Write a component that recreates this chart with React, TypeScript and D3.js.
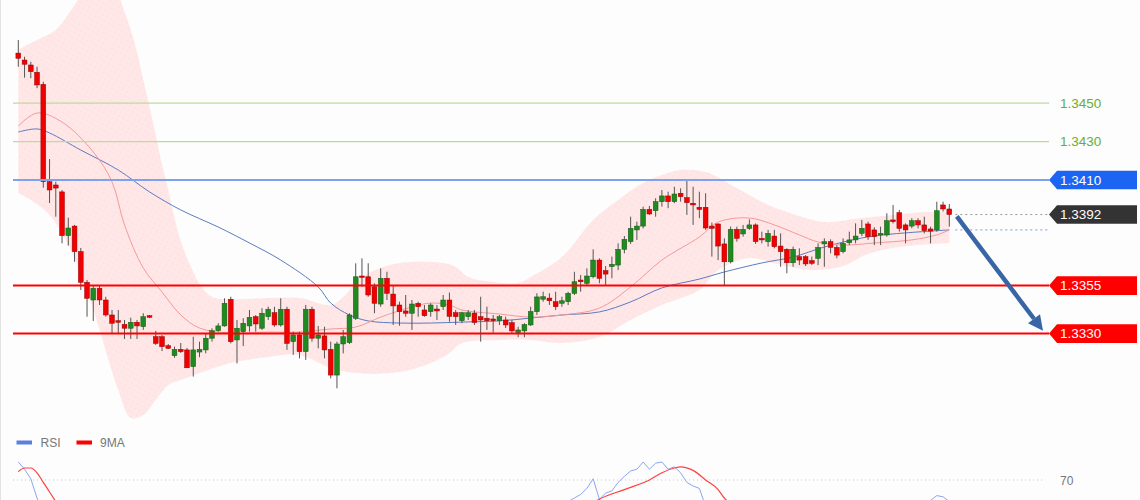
import React from 'react';
import * as d3 from 'd3';

// ---- Candles (price) ----
const opens = [1.34761,1.34725,1.34699,1.34661,1.34598,1.34091,1.34074,1.34038,1.33810,1.33860,
1.33727,1.33567,1.33475,1.33536,1.33475,1.33397,1.33367,1.33348,1.33328,1.33359,
1.33336,1.33393,1.33284,1.33284,1.33237,1.33185,1.33218,1.33215,1.33128,1.33204,
1.33215,1.33276,1.33315,1.33340,1.33479,1.33267,1.33310,1.33340,1.33388,1.33328,
1.33388,1.33409,1.33345,1.33427,1.33258,1.33293,1.33206,1.33427,1.33276,1.33288,
1.33218,1.33084,1.33246,1.33253,1.33380,1.33600,1.33596,1.33544,1.33454,1.33588,
1.33506,1.33449,1.33418,1.33406,1.33458,1.33423,1.33414,1.33428,1.33440,1.33475,
1.33409,1.33367,1.33388,1.33407,1.33388,1.33380,1.33376,1.33367,1.33371,1.33357,
1.33305,1.33314,1.33345,1.33414,1.33479,1.33485,1.33466,1.33458,1.33466,1.33510,
1.33579,1.33562,1.33596,1.33683,1.33628,1.33649,1.33657,1.33739,1.33779,1.33840,
1.33860,1.33947,1.33940,1.33987,1.34017,1.33987,1.34031,1.34008,1.33979,1.33958,
1.33958,1.33860,1.33871,1.33767,1.33674,1.33843,1.33819,1.33848,1.33866,1.33796,
1.33779,1.33808,1.33756,1.33739,1.33669,1.33701,1.33701,1.33680,1.33692,1.33767,
1.33779,1.33749,1.33727,1.33773,1.33788,1.33822,1.33871,1.33840,1.33814,1.33814,
1.33892,1.33930,1.33866,1.33860,1.33888,1.33866,1.33845,1.33840,1.33970,1.33949];

const highs = [1.34829,1.34742,1.34716,1.34690,1.34612,1.34209,1.34091,1.34048,1.33904,1.33866,
1.33746,1.33579,1.33549,1.33553,1.33492,1.33423,1.33423,1.33371,1.33383,1.33371,
1.33406,1.33397,1.33314,1.33293,1.33246,1.33232,1.33251,1.33225,1.33284,1.33258,
1.33302,1.33328,1.33354,1.33484,1.33492,1.33371,1.33380,1.33423,1.33397,1.33432,
1.33440,1.33440,1.33484,1.33440,1.33310,1.33310,1.33449,1.33440,1.33340,1.33336,
1.33258,1.33258,1.33319,1.33406,1.33666,1.33692,1.33666,1.33562,1.33640,1.33622,
1.33553,1.33466,1.33501,1.33475,1.33466,1.33449,1.33458,1.33449,1.33501,1.33514,
1.33423,1.33414,1.33423,1.33423,1.33492,1.33440,1.33397,1.33397,1.33388,1.33371,
1.33336,1.33354,1.33440,1.33510,1.33518,1.33510,1.33518,1.33492,1.33518,1.33622,
1.33605,1.33640,1.33739,1.33692,1.33652,1.33701,1.33770,1.33808,1.33909,1.33883,
1.33961,1.33965,1.34005,1.34048,1.34039,1.34065,1.34057,1.34100,1.34065,1.34039,
1.34031,1.33878,1.33874,1.33796,1.33857,1.33857,1.33866,1.33895,1.33874,1.33831,
1.33840,1.33840,1.33822,1.33744,1.33753,1.33744,1.33709,1.33701,1.33770,1.33796,
1.33791,1.33761,1.33796,1.33831,1.33874,1.33892,1.33883,1.33854,1.33857,1.33927,
1.33970,1.33944,1.33874,1.33901,1.33901,1.33909,1.33857,1.33987,1.33987,1.33975];

const lows = [1.34690,1.34633,1.34630,1.34578,1.34060,1.33980,1.33909,1.33770,1.33758,1.33674,
1.33527,1.33388,1.33366,1.33449,1.33388,1.33302,1.33303,1.33272,1.33272,1.33272,
1.33319,1.33381,1.33241,1.33209,1.33220,1.33174,1.33199,1.33121,1.33076,1.33177,
1.33197,1.33258,1.33310,1.33336,1.33249,1.33145,1.33235,1.33310,1.33310,1.33319,
1.33371,1.33336,1.33336,1.33215,1.33189,1.33171,1.33163,1.33258,1.33223,1.33171,
1.33067,1.33015,1.33197,1.33246,1.33371,1.33544,1.33492,1.33406,1.33440,1.33475,
1.33345,1.33341,1.33388,1.33319,1.33388,1.33388,1.33388,1.33371,1.33423,1.33362,
1.33345,1.33354,1.33371,1.33345,1.33258,1.33319,1.33305,1.33345,1.33329,1.33302,
1.33281,1.33281,1.33340,1.33397,1.33466,1.33449,1.33423,1.33440,1.33449,1.33501,
1.33518,1.33553,1.33588,1.33562,1.33553,1.33588,1.33631,1.33718,1.33767,1.33788,
1.33848,1.33918,1.33909,1.33961,1.33953,1.33979,1.33987,1.33918,1.33866,1.33901,
1.33840,1.33701,1.33683,1.33553,1.33666,1.33779,1.33805,1.33840,1.33767,1.33770,
1.33753,1.33744,1.33648,1.33614,1.33648,1.33657,1.33652,1.33657,1.33657,1.33648,
1.33718,1.33692,1.33718,1.33761,1.33770,1.33808,1.33788,1.33761,1.33761,1.33805,
1.33874,1.33831,1.33770,1.33848,1.33848,1.33822,1.33770,1.33831,1.33935,1.33857];

const closes = [1.34734,1.34703,1.34664,1.34595,1.34091,1.34048,1.34058,1.33810,1.33850,1.33727,
1.33567,1.33484,1.33536,1.33475,1.33397,1.33354,1.33359,1.33328,1.33359,1.33340,
1.33388,1.33385,1.33249,1.33232,1.33223,1.33218,1.33206,1.33122,1.33215,1.33218,
1.33276,1.33315,1.33340,1.33458,1.33258,1.33328,1.33354,1.33385,1.33350,1.33406,
1.33427,1.33345,1.33427,1.33249,1.33293,1.33206,1.33427,1.33276,1.33293,1.33215,
1.33084,1.33246,1.33284,1.33397,1.33596,1.33593,1.33501,1.33458,1.33588,1.33510,
1.33444,1.33414,1.33406,1.33454,1.33440,1.33393,1.33449,1.33418,1.33475,1.33390,
1.33388,1.33409,1.33409,1.33358,1.33371,1.33367,1.33367,1.33388,1.33345,1.33314,
1.33319,1.33347,1.33415,1.33491,1.33492,1.33471,1.33440,1.33471,1.33510,1.33570,
1.33570,1.33600,1.33683,1.33588,1.33610,1.33661,1.33739,1.33791,1.33848,1.33860,
1.33947,1.33923,1.33987,1.34017,1.33987,1.34027,1.34013,1.33982,1.33970,1.33947,
1.33850,1.33848,1.33756,1.33674,1.33843,1.33796,1.33843,1.33866,1.33779,1.33788,
1.33822,1.33753,1.33727,1.33669,1.33739,1.33683,1.33663,1.33666,1.33749,1.33779,
1.33749,1.33709,1.33770,1.33788,1.33808,1.33848,1.33805,1.33805,1.33822,1.33888,
1.33883,1.33848,1.33840,1.33888,1.33866,1.33836,1.33834,1.33940,1.33949,1.33920];

// ---- Indicators: [candle index, price] ----
const bbUpper: [number, number][] = [[0,1.34777],[2,1.34814],[4,1.34845],[6,1.34881],[9,1.35011],[10,1.35064],[13,1.35246],[16,1.35064],[17,1.34975],[18,1.34881],[19,1.34767],[20,1.34621],[21,1.34480],[22,1.34334],[23,1.34178],[24,1.34048],[25,1.33902],[26,1.33782],[27,1.33694],[28,1.33621],[29,1.33558],[31,1.33491],[34,1.33480],[40,1.33485],[45,1.33485],[50,1.33449],[52,1.33491],[55,1.33595],[58,1.33642],[61,1.33668],[68,1.33668],[70,1.33647],[72,1.33595],[76,1.33569],[80,1.33564],[82,1.33595],[87,1.33699],[92,1.33892],[96,1.33996],[100,1.34084],[103,1.34126],[106,1.34152],[110,1.34142],[115,1.34058],[120,1.33970],[125,1.33913],[129,1.33881],[135,1.33902],[140,1.33918],[145,1.33933],[149,1.33933]];

const bbLower: [number, number][] = [[0,1.34032],[2,1.33996],[5,1.33918],[8,1.33761],[11,1.33527],[13,1.33319],[16,1.33006],[18,1.32860],[20,1.32876],[22,1.32954],[24,1.33032],[26,1.33058],[29,1.33095],[34,1.33147],[40,1.33178],[45,1.33189],[50,1.33121],[54,1.33095],[61,1.33100],[66,1.33147],[69,1.33199],[71,1.33251],[77,1.33267],[82,1.33267],[87,1.33251],[93,1.33282],[98,1.33371],[103,1.33449],[109,1.33527],[112,1.33631],[117,1.33694],[122,1.33657],[127,1.33631],[132,1.33652],[136,1.33715],[141,1.33751],[149,1.33772]];

const maFast: [number, number][] = [[0,1.34381],[3,1.34449],[7,1.34402],[12,1.34246],[15,1.34090],[17,1.33866],[20,1.33642],[23,1.33517],[26,1.33397],[29,1.33329],[34,1.33303],[40,1.33308],[45,1.33308],[50,1.33324],[54,1.33334],[58,1.33386],[63,1.33439],[66,1.33459],[69,1.33449],[71,1.33423],[77,1.33402],[82,1.33386],[87,1.33397],[93,1.33433],[98,1.33543],[103,1.33683],[109,1.33803],[112,1.33881],[117,1.33902],[121,1.33866],[125,1.33814],[128,1.33777],[132,1.33761],[137,1.33772],[143,1.33788],[147,1.33814],[149,1.33840]];

const maSlow: [number, number][] = [[0,1.34350],[3,1.34366],[5,1.34345],[10,1.34256],[16,1.34152],[21,1.34038],[26,1.33944],[32,1.33855],[37,1.33772],[42,1.33683],[48,1.33543],[50,1.33459],[53,1.33397],[56,1.33366],[61,1.33355],[66,1.33355],[71,1.33360],[77,1.33366],[82,1.33381],[87,1.33397],[93,1.33413],[98,1.33465],[103,1.33538],[109,1.33584],[113,1.33621],[119,1.33668],[124,1.33699],[129,1.33751],[135,1.33798],[140,1.33819],[149,1.33840]];

// RSI pane (visible parts only): [candle index, value]
const rsiA: [number, number][] = [[0,85],[1,79],[2,71],[3,55],[4,45]];
const rsiB: [number, number][] = [[87,45],[88,52],[89,55],[90,58],[91,63],[92,71],[93,54],[94,59],[95,61],[96,68],[97,73],[98,77.5],[99,79],[100,85],[101,79],[102,84],[103,85],[104,79],[105,81],[106,76],[107,68],[108,65],[109,63],[110,48]];
const rsiC: [number, number][] = [[145,46],[146,53],[147,57],[148,56],[149,52]];
const rsiMaA: [number, number][] = [[0,77],[1,80],[2,80],[3,76],[4,68],[5,60],[6,52]];
const rsiMaB: [number, number][] = [[92,51],[93,54],[97,62],[101,70],[103,76],[105,80],[106,81],[108,78],[110,70],[112,62],[113,55],[114,50]];
const rsiLevel = 70;

// ---- Levels ----
const targetLevels = [1.3450, 1.3430];
const resistanceLevels = [1.3410];
const supportLevels = [1.3355, 1.3330];
const lastPrice = 1.3392;
const legendItems = ['RSI', '9MA'];
const arrowFrom: [number, number] = [150.2, 1.33910];
const arrowTo: [number, number] = [164, 1.33315];

const FONT = 'Liberation Sans, Arial, sans-serif';

export default function App() {
  const W = 1140, H = 500;
  const x = d3.scaleLinear().domain([0, closes.length - 1]).range([18.3, 949.3]);
  const y = d3.scaleLinear().domain([1.3330, 1.3450]).range([333.6, 103.2]);
  const yR = d3.scaleLinear().domain([70, 100]).range([480, 444]);
  const fmt = d3.format('.4f');

  const curveLine = d3.line<[number, number]>().x(d => x(d[0])).y(d => y(d[1])).curve(d3.curveCatmullRom.alpha(0.5));
  const up = curveLine(bbUpper) as string;
  const lo = curveLine(bbLower.slice().reverse()) as string;
  const bandPath = up + 'L' + lo.slice(1) + 'Z';

  const rsiLine = d3.line<[number, number]>().x(d => x(d[0])).y(d => yR(d[1]));
  const rsiMaLine = d3.line<[number, number]>().x(d => x(d[0])).y(d => yR(d[1])).curve(d3.curveMonotoneX);

  const LINE_START = 13, LINE_END = 1049, TIP = 1049, BODY = 1057, RIGHT = 1137, HALF = 9.3;
  const box = (v: number) => {
    const c = y(v);
    return `M${TIP},${c} L${BODY},${c - HALF} L${RIGHT},${c - HALF} L${RIGHT},${c + HALF} L${BODY},${c + HALF} Z`;
  };

  // arrow
  const sx = x(arrowFrom[0]), sy = y(arrowFrom[1]);
  const ex = x(arrowTo[0]), ey = y(arrowTo[1]);
  const len = Math.hypot(ex - sx, ey - sy);
  const ux = (ex - sx) / len, uy = (ey - sy) / len;
  const HL = 15, HW = 7.5;
  const bx = ex - ux * HL, by = ey - uy * HL;
  const head = `M${ex},${ey} L${bx - uy * HW},${by + ux * HW} L${bx + uy * HW},${by - ux * HW} Z`;

  const lastX = x(closes.length - 1) + 6;

  return (
    <svg width={W} height={H} style={{ position: 'absolute', left: 0, top: 0, display: 'block' }} fontFamily={FONT}>
      <defs>
        <pattern id="bbTex" width="5" height="5" patternUnits="userSpaceOnUse" patternTransform="rotate(30)">
          <rect width="5" height="5" fill="#ffe7e7" />
          <circle cx="1" cy="1" r="0.6" fill="#f9d3d3" />
        </pattern>
        <clipPath id="mainClip"><rect x="0" y="0" width={W} height="430" /></clipPath>
        <clipPath id="rsiClip"><rect x="0" y="452" width={W} height="48" /></clipPath>
      </defs>
      <rect width={W} height={H} fill="#fcfdfc" />
      <line x1={0.5} x2={0.5} y1={0} y2={H} stroke="#e2e2e2" />

      <g clipPath="url(#mainClip)">
        <path d={bandPath} fill="url(#bbTex)" />
        <path d={curveLine(maSlow) as string} fill="none" stroke="#5a7cc0" strokeWidth={1} />
        <path d={curveLine(maFast) as string} fill="none" stroke="#f39a9a" strokeWidth={1} />

        {targetLevels.map(v => (
          <line key={v} x1={LINE_START} x2={LINE_END} y1={y(v)} y2={y(v)} stroke="#bcdc9c" strokeWidth={1.2} />
        ))}

        {closes.map((c, i) => {
          const o = opens[i];
          const isUp = c >= o;
          const top = y(Math.max(o, c));
          const bot = y(Math.min(o, c));
          const h = Math.max(1.4, bot - top);
          const cx = x(i);
          return (
            <g key={i}>
              <line x1={cx} x2={cx} y1={y(highs[i])} y2={y(lows[i])} stroke="#555" strokeWidth={1} />
              <rect x={cx - 2.4} y={top} width={4.8} height={h}
                fill={isUp ? '#1f8a1f' : '#f00000'} stroke={isUp ? '#145a14' : '#9a0000'} strokeWidth={0.5} />
            </g>
          );
        })}

        {resistanceLevels.map(v => (
          <line key={v} x1={LINE_START} x2={LINE_END} y1={y(v)} y2={y(v)} stroke="#7ea2ee" strokeWidth={2} />
        ))}
        {supportLevels.map(v => (
          <line key={v} x1={LINE_START} x2={LINE_END} y1={y(v)} y2={y(v)} stroke="#ff0000" strokeWidth={2} />
        ))}
        <line x1={lastX} x2={LINE_END} y1={y(lastPrice)} y2={y(lastPrice)} stroke="#999" strokeWidth={1} strokeDasharray="2,3" />
        <line x1={lastX} x2={LINE_END} y1={y(maSlow[maSlow.length - 1][1])} y2={y(maSlow[maSlow.length - 1][1])} stroke="#7d9fe0" strokeWidth={1} strokeDasharray="2,3" />

        <line x1={sx} y1={sy} x2={bx} y2={by} stroke="#3765a6" strokeWidth={4.5} />
        <path d={head} fill="#3765a6" />
      </g>

      {targetLevels.map(v => (
        <text key={v} x={1060} y={y(v) + 4.6} fontSize={13.5} fill="#6aae2e">{fmt(v)}</text>
      ))}
      {resistanceLevels.map(v => (
        <g key={v}>
          <path d={box(v)} fill="#1c64f2" />
          <text x={1060} y={y(v) + 4.6} fontSize={13.5} fill="#ffffff">{fmt(v)}</text>
        </g>
      ))}
      <g>
        <path d={box(lastPrice)} fill="#333333" />
        <text x={1060} y={y(lastPrice) + 4.6} fontSize={13.5} fill="#ffffff">{fmt(lastPrice)}</text>
      </g>
      {supportLevels.map(v => (
        <g key={v}>
          <path d={box(v)} fill="#ff0000" />
          <text x={1060} y={y(v) + 4.6} fontSize={13.5} fill="#ffffff">{fmt(v)}</text>
        </g>
      ))}

      {/* legend */}
      <rect x={16.5} y={440.5} width={15.5} height={4} fill="#5b7fdb" />
      <text x={40.5} y={446.5} fontSize={12} fill="#777">{legendItems[0]}</text>
      <rect x={76.5} y={440.5} width={15.5} height={4} fill="#ff0000" />
      <text x={100} y={446.5} fontSize={12} fill="#777">{legendItems[1]}</text>

      {/* RSI pane */}
      <line x1={LINE_START} x2={1045} y1={yR(rsiLevel)} y2={yR(rsiLevel)} stroke="#c8c8c8" strokeWidth={1} strokeDasharray="1,3" />
      <text x={1060} y={yR(rsiLevel) + 4.5} fontSize={12} fill="#777">{rsiLevel}</text>
      <g clipPath="url(#rsiClip)">
        {[rsiA, rsiB, rsiC].map((s, k) => (
          <path key={k} d={rsiLine(s) as string} fill="none" stroke="#8aa6ee" strokeWidth={1} />
        ))}
        {[rsiMaA, rsiMaB].map((s, k) => (
          <path key={k} d={rsiMaLine(s) as string} fill="none" stroke="#ff4040" strokeWidth={1.2} />
        ))}
      </g>
    </svg>
  );
}
